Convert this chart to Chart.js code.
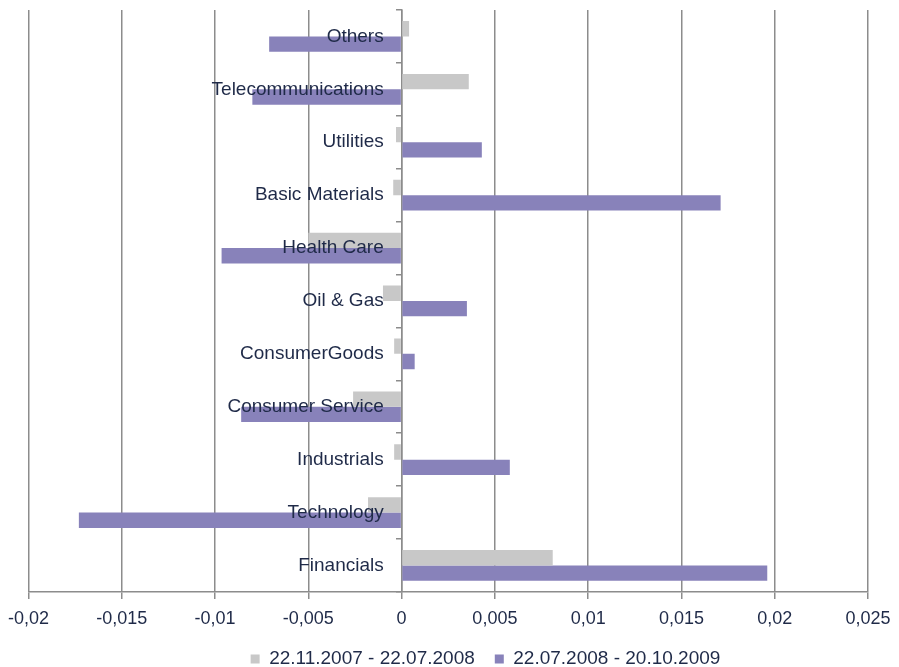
<!DOCTYPE html>
<html>
<head>
<meta charset="utf-8">
<script src="https://cdn.jsdelivr.net/npm/chart.js@4/dist/chart.umd.min.js"></script>
<style>
  html, body { margin: 0; padding: 0; background: #ffffff; }
  #wrap { width: 899px; height: 667px; }
</style>
</head>
<body>
<div id="wrap"><canvas id="c" width="899" height="667"></canvas></div>
<script>
// Sector categories, top to bottom
const sectors = ['Others', 'Telecommunications', 'Utilities', 'Basic Materials', 'Health Care',
  'Oil & Gas', 'ConsumerGoods', 'Consumer Service', 'Industrials', 'Technology', 'Financials'];

// Period labels
const periodA = '22.11.2007 - 22.07.2008';
const periodB = '22.07.2008 - 20.10.2009';

// Values per sector for each period
const valuesA = [0.0004, 0.0036, -0.0003, -0.00045, -0.005, -0.001, -0.0004, -0.0026, -0.0004, -0.0018, 0.0081];
const valuesB = [-0.0071, -0.0080, 0.0043, 0.0171, -0.00965, 0.0035, 0.0007, -0.0086, 0.0058, -0.0173, 0.0196];

// Horizontal axis range and step
const axisMin = -0.02;
const axisMax = 0.025;
const axisStep = 0.005;

const labelColor = '#1f2a48';
const gridColor = '#8c8c8c';
const fontFamily = 'Liberation Sans, Arial, sans-serif';

// Nudges the legend row to the right of the canvas centre
const legendShift = {
  id: 'legendShift',
  afterLayout(chart) {
    const lg = chart.legend;
    if (lg) { lg.left += 38; lg.right += 38; }
  }
};

// Category axes sit inside the plot, so they need no extra room above or below
const noEdgePadding = scale => { scale.paddingTop = 0; scale.paddingBottom = 0; };

// Value axis: tighter box under the plot and fixed side room for the end labels
const valueAxisFit = scale => {
  scale.height -= 9;
  scale.paddingLeft = 28.5;
  scale.paddingRight = 31;
};

new Chart(document.getElementById('c'), {
  type: 'bar',
  data: {
    labels: sectors,
    datasets: [
      { label: periodA, data: valuesA, backgroundColor: '#c8c8c8', borderWidth: 0, yAxisID: 'y' },
      { label: periodB, data: valuesB, backgroundColor: '#8882ba', borderWidth: 0, yAxisID: 'y' }
    ]
  },
  plugins: [legendShift],
  options: {
    indexAxis: 'y',
    responsive: false,
    animation: false,
    devicePixelRatio: 1,
    layout: { padding: { left: 5, right: 9, top: 10, bottom: -11.5 } },
    datasets: { bar: { categoryPercentage: 0.58, barPercentage: 1.0 } },
    plugins: {
      tooltip: { enabled: false },
      legend: {
        position: 'bottom',
        labels: {
          boxWidth: 9, boxHeight: 9, padding: 20,
          color: labelColor,
          font: { family: fontFamily, size: 19 }
        }
      }
    },
    scales: {
      x: {
        type: 'linear',
        min: axisMin, max: axisMax,
        afterFit: valueAxisFit,
        ticks: {
          stepSize: axisStep,
          color: labelColor,
          padding: 9,
          font: { family: fontFamily, size: 18 },
          callback: v => String(Math.round(v * 1000) / 1000).replace('.', ',')
        },
        grid: { color: gridColor, lineWidth: 1.5, tickLength: 7, drawTicks: true },
        border: { color: gridColor, width: 1.5 }
      },
      // sector names, set just left of the zero line and drawn above the bars
      y: {
        type: 'category',
        position: { x: -0.00096 },
        offset: true,
        afterFit: noEdgePadding,
        ticks: {
          z: 1,
          color: labelColor,
          font: { family: fontFamily, size: 19 }
        },
        grid: { display: false },
        border: { display: false }
      },
      // zero line with short tick marks between sectors
      y2: {
        type: 'category',
        position: { x: 0 },
        offset: true,
        afterFit: noEdgePadding,
        ticks: { display: false },
        grid: { drawOnChartArea: false, offset: true, tickLength: 5, color: gridColor, lineWidth: 1.5 },
        border: { color: gridColor, width: 1.5 }
      }
    }
  }
});
</script>
</body>
</html>
